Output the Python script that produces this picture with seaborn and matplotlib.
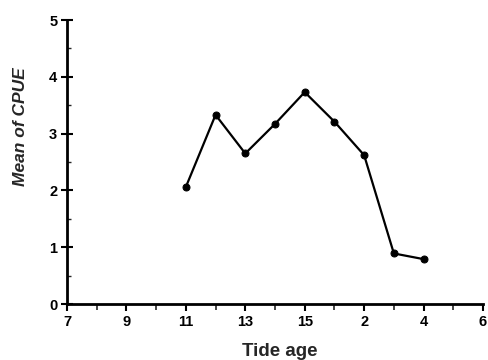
import matplotlib
matplotlib.use("Agg")
import matplotlib.pyplot as plt
import seaborn as sns
import pandas as pd
from matplotlib.ticker import MultipleLocator, FixedLocator

# Tide age cycle shown on x axis (positions 0..14)
tide_ages = [7, 8, 9, 10, 11, 12, 13, 14, 15, 1, 2, 3, 4, 5, 6]
tick_labels = ["7", "9", "11", "13", "15", "2", "4", "6"]

# Observed series
obs_ages = [11, 12, 13, 14, 15, 1, 2, 3, 4]
cpue = [2.06, 3.33, 2.65, 3.17, 3.73, 3.21, 2.62, 0.89, 0.79]

pos = [tide_ages.index(a) for a in obs_ages]
df = pd.DataFrame({"pos": pos, "cpue": cpue})

sns.set_theme(style="ticks")
plt.rcParams["font.family"] = ["Liberation Sans", "DejaVu Sans"]

fig = plt.figure(figsize=(4.89, 3.6), dpi=100)
ax = fig.add_axes([67/489, 1-304/360, (483-67)/489, (304-20)/360])

sns.lineplot(data=df, x="pos", y="cpue", ax=ax, color="black", linewidth=1.6,
             marker="o", markersize=5, markeredgecolor="black", markerfacecolor="black")

ax.set_xlim(0, 14)
ax.set_ylim(0, 5)
ax.xaxis.set_major_locator(FixedLocator(list(range(0, 15, 2))))
ax.set_xticklabels(tick_labels)
ax.xaxis.set_minor_locator(MultipleLocator(1))
ax.yaxis.set_major_locator(MultipleLocator(1))
ax.yaxis.set_minor_locator(MultipleLocator(0.5))

for s in ["top", "right"]:
    ax.spines[s].set_visible(False)
for s in ["left", "bottom"]:
    ax.spines[s].set_linewidth(2.0)
    ax.spines[s].set_color("black")

ax.tick_params(axis="x", which="major", direction="out", length=5, width=1.5,
               labelsize=10.5, pad=3, colors="black")
ax.tick_params(axis="x", which="minor", direction="out", length=4, width=1.2)
ax.tick_params(axis="y", which="major", direction="inout", length=8, width=1.5,
               labelsize=10.5, pad=3, colors="black")
ax.tick_params(axis="y", which="minor", direction="in", length=3, width=1.0)
for lbl in ax.get_xticklabels() + ax.get_yticklabels():
    lbl.set_fontweight("bold")

ax.set_xlabel("Tide age", fontsize=13.5, fontweight="bold")
ax.set_ylabel("Mean of CPUE", fontsize=12.5, fontweight="bold", style="italic")
ax.xaxis.set_label_coords(0.512, -0.137)
ax.yaxis.set_label_coords(-0.094, 0.623)
ax.grid(False)

fig.savefig("out.png", dpi=100)
